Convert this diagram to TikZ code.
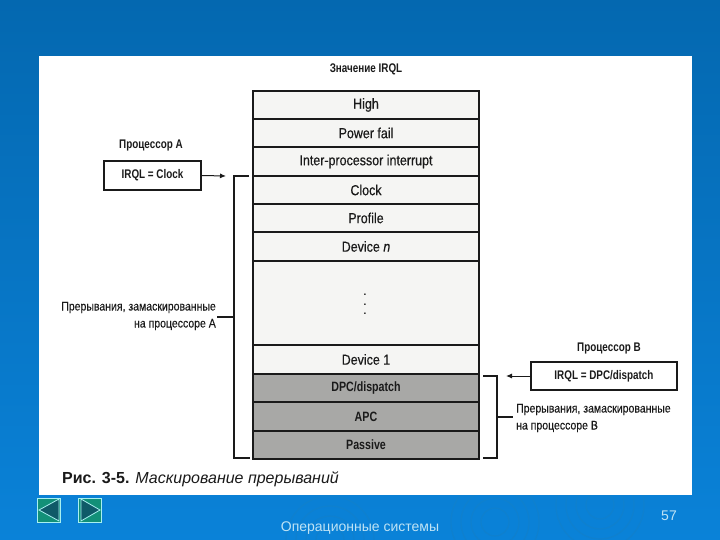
\documentclass[tikz,border=0pt]{standalone}
\usepackage{fontspec}
\usetikzlibrary{arrows.meta}
\setmainfont{Liberation Sans}
\newfontfamily\cond[FakeStretch=0.86,FakeBold=0.4]{Liberation Sans}
\newfontfamily\condn[FakeStretch=0.84,FakeBold=0.2]{Liberation Sans}
\newfontfamily\condb[FakeStretch=0.79]{Liberation Sans Bold}
\definecolor{slidebot}{HTML}{0A82D8}
\definecolor{slidetop}{HTML}{0468B0}
\definecolor{ring}{HTML}{0F80CE}
\definecolor{ink}{HTML}{1A1A1A}
\definecolor{cellw}{HTML}{F5F5F3}
\definecolor{cellg}{HTML}{A8A8A6}
\definecolor{teal}{HTML}{129078}
\definecolor{tridark}{HTML}{0F5A68}
\definecolor{navline}{HTML}{A8F0F0}
\definecolor{footc}{HTML}{BFE3F5}
\tikzset{
  cell/.style={draw=ink,line width=1.5pt,fill=cellw,minimum width=226pt,inner sep=0pt,font=\cond\fontsize{14.5}{14.5}\selectfont,text=ink,anchor=north west,xshift=-.75pt,yshift=.75pt},
  cellgrey/.style={cell,fill=cellg,font=\condb\fontsize{13.5}{14}\selectfont},
  irql/.style={draw=ink,line width=1.5pt,fill=white,inner sep=0pt,font=\condb\fontsize{12.5}{14}\selectfont,text=ink},
  lbl/.style={font=\condb\fontsize{12.5}{14}\selectfont,text=ink,inner sep=0pt},
  note/.style={font=\condn\fontsize{12.5}{17}\selectfont,text=ink,inner sep=0pt},
  brace/.style={draw=ink,line width=1.3pt},
  pointer/.style={-{Latex[length=6pt,width=5pt]},draw=ink,line width=1pt},
  navbtn/.style={draw=navline,fill=teal,line width=.8pt,minimum width=23pt,minimum height=24pt,inner sep=0pt},
  navtri/.style={draw=navline,line width=.8pt,fill=tridark},
  rings/.style={draw=ring,line width=1.2pt},
  dotmark/.style={font=\bfseries\fontsize{10}{10}\selectfont,text=ink,inner sep=0pt}
}
\begin{document}
\begin{tikzpicture}[x=1pt,y=-1pt]
\useasboundingbox (0,0) rectangle (720,540);
\shade[top color=slidetop,bottom color=slidebot] (0,0) rectangle (720,540);
\foreach \r in {14,24,34,44} {\draw[rings] (330,540) circle (\r); \draw[rings] (495,522) circle (\r); \draw[rings] (600,505) circle (\r);}
\fill[white] (39,56) rectangle (692,495);
% stack
\foreach \n/\t/\b/\s in {hi/91/28/High,pf/119/28/Power fail,ip/147/29/Inter-processor interrupt,cl/176/28/Clock,pr/204/28/Profile}
  {\node[cell,minimum height=\b pt] (\n) at (253,\t) {\s};}
\node[cell,minimum height=29pt] (dn) at (253,232) {Device \textit{n}};
\node[cell,minimum height=84pt] (gap) at (253,261) {};
\node[dotmark] (d1a) at (365,295) {.};
\node[dotmark] (d2a) at (365,304.5) {.};
\node[dotmark] (d3a) at (365,314) {.};
\node[cell,minimum height=29pt] (d1) at (253,345) {Device 1};
\node[cellgrey,minimum height=28pt] (dpc) at (253,374) {DPC/dispatch};
\node[cellgrey,minimum height=29pt] (apc) at (253,402) {APC};
\node[cellgrey,minimum height=28pt] (pas) at (253,431) {Passive};
\node[lbl] (title) at (366,69) {Значение IRQL};
% processor A
\node[lbl] (pa) at (151,145) {Процессор А};
\node[irql,minimum width=97pt,minimum height=29pt] (ba) at (152.5,175.5) {IRQL = Clock};
\coordinate (aend) at (226,176);
\draw[pointer] (ba.east) -- (aend);
\coordinate (lt) at (249,176);
\coordinate (lb) at (250,458);
\coordinate (lm) at (234,317);
\coordinate (lk) at (217,317);
\draw[brace] (lt) -- (234,176) -- (234,458) -- (lb);
\draw[brace] (lm) -- (lk);
\node[note,align=right,anchor=east] (na) at (216,316) {Прерывания, замаскированные\\на процессоре А};
% processor B
\node[lbl] (pb) at (609,348) {Процессор В};
\node[irql,minimum width=146pt,minimum height=28pt] (bb) at (604,376) {IRQL = DPC/dispatch};
\coordinate (bend) at (506,376);
\draw[pointer] (bb.west) -- (bend);
\coordinate (rt) at (483,376);
\coordinate (rb) at (483,458);
\coordinate (rm) at (497,417);
\coordinate (rk) at (513,417);
\draw[brace] (rt) -- (497,376) -- (497,458) -- (rb);
\draw[brace] (rm) -- (rk);
\node[note,align=left,anchor=west] (nb) at (516,418) {Прерывания, замаскированные\\на процессоре В};
% caption
\node[font=\fontsize{16}{16}\selectfont,text=ink,inner sep=0pt,anchor=west] (cap) at (62,479) {\textbf{Рис. 3-5.} \textit{Маскирование прерываний}};
% footer
\node[navbtn] (bl) at (49,510) {};
\node[navbtn] (br) at (90,510) {};
\draw[navtri] (59,499) -- (39,510) -- (59,521) -- cycle;
\draw[navtri] (81,499) -- (100,510) -- (81,521) -- cycle;
\node[font=\fontsize{14}{14}\selectfont,text=footc,inner sep=0pt] (ft) at (360,528) {Операционные системы};
\node[font=\fontsize{14}{14}\selectfont,text=footc,inner sep=0pt] (pg) at (669,516) {57};
\end{tikzpicture}
\end{document}
